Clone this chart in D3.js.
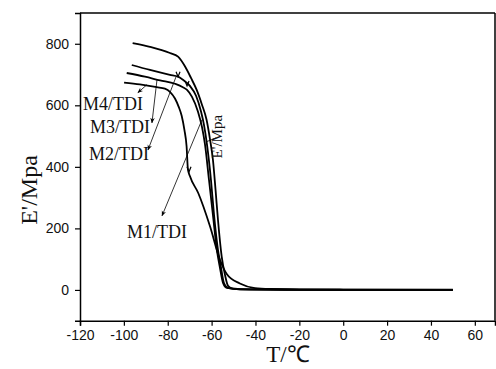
<!DOCTYPE html>
<html><head><meta charset="utf-8">
<script src="https://cdn.jsdelivr.net/npm/d3@7"></script>
<style>body{margin:0;background:#fff}svg{display:block}</style>
</head><body>
<svg id="c" width="496" height="369"></svg>
<script>
// Data (T in °C, E' in MPa)
const xTicks = [-120,-100,-80,-60,-40,-20,0,20,40,60];
const yTicks = [0,200,400,600,800];
const curveTop = [[-96,802],[-88.1,790],[-79,770],[-75.3,758],[-72.1,726],[-69.4,689],[-66.8,650],[-64.4,602],[-62.3,553],[-60.7,488],[-59.4,423],[-58.2,325],[-57.1,228],[-55.4,108],[-53.9,49],[-52.5,13],[-50.7,5],[-42.5,2],[0,0.5],[50,0]];
const curveM3 = [[-96.4,731],[-88.1,715],[-79,699],[-75.3,693],[-73.1,683],[-69.9,663],[-67.1,631],[-64.8,579],[-63.5,537],[-62.1,472],[-60.3,358],[-58.9,244],[-57.1,130],[-55.7,72],[-54.4,23],[-52.5,6.5],[-47.1,2],[-19.7,0.5],[50,0]];
const curveM2 = [[-98.7,705],[-90.4,693],[-83.5,681],[-76.7,670],[-73.1,659],[-71.2,650],[-69,628],[-66.2,579],[-64.4,530],[-63,472],[-61.2,358],[-59.4,244],[-57.6,130],[-56.2,72],[-54.8,23],[-53,6.5],[-47,2],[-19.7,0.5],[50,0]];
const curveM1 = [[-99.9,674],[-92.7,668],[-85,659],[-81.3,654],[-79,644],[-76.7,622],[-75,595],[-73.65,566],[-72.4,520],[-71.4,466],[-70.8,392],[-69.9,370],[-66.1,315],[-60.7,206],[-56.2,98],[-53.1,52],[-47.1,21],[-40.2,6],[-33.4,3],[-19.7,1.5],[50,1]];
const labels = [
  {text:"M4/TDI", x:-118.6, y:585, ax1:[-89.5,667], ax2:[-93.6,641]},
  {text:"M3/TDI", x:-115.4, y:511, ax1:[-84.9,683], ax2:[-87.2,543]},
  {text:"M2/TDI", x:-115.9, y:423, ax1:[-76.2,693], ax2:[-89,455]},
  {text:"M1/TDI", x:-98.6, y:169, ax1:[-64.4,553], ax2:[-82.6,241]}
];
const markers = [[-75.3,693],[-71.2,663],[-70.3,384]];

const svg = d3.select("#c");
const x = d3.scaleLinear().domain([-120, 69.2]).range([80, 495]);
const y = d3.scaleLinear().domain([-100, 900]).range([320.7, 13]);

// frame
svg.append("line").attr("x1",80).attr("x2",495).attr("y1",13).attr("y2",13).attr("stroke","#000").attr("stroke-width",1.5);
svg.append("line").attr("x1",495).attr("x2",495).attr("y1",13).attr("y2",320.7).attr("stroke","#000").attr("stroke-width",1.5);

const xMinor = d3.range(-120, 70, 10);
const yMinor = d3.range(-100, 901, 100);
const fmt = d => String(d);
const gx = svg.append("g").attr("transform","translate(0,320.7)");
gx.call(d3.axisBottom(x).tickValues(xMinor).tickSize(3).tickFormat(""));
gx.call(d3.axisBottom(x).tickValues(xTicks).tickSize(5).tickPadding(4).tickFormat(fmt));
const gy = svg.append("g").attr("transform","translate(80,0)");
gy.call(d3.axisLeft(y).tickValues(yMinor).tickSize(3).tickFormat(""));
gy.call(d3.axisLeft(y).tickValues(yTicks).tickSize(5).tickPadding(6).tickFormat(fmt));
svg.selectAll(".domain").attr("stroke","#000").attr("stroke-width",1.5);
svg.selectAll(".tick line").attr("stroke","#000").attr("stroke-width",1.2);
svg.selectAll(".tick text").attr("font-family","Liberation Sans, Arial, sans-serif").attr("font-size",14).attr("fill","#111");

// curves
const line = d3.line().x(d=>x(d[0])).y(d=>y(d[1])).curve(d3.curveMonotoneX);
[curveTop, curveM3, curveM2, curveM1].forEach(c=>{
  svg.append("path").attr("d", line(c)).attr("fill","none").attr("stroke","#000").attr("stroke-width",1.8);
});

// arrow marker
svg.append("defs").append("marker").attr("id","ah").attr("viewBox","0 0 10 10").attr("refX",9).attr("refY",5)
  .attr("markerWidth",7).attr("markerHeight",7).attr("orient","auto-start-reverse")
  .append("path").attr("d","M0,1 L10,5 L0,9 L3,5 Z").attr("fill","#000");

labels.forEach(l=>{
  svg.append("line").attr("x1",x(l.ax1[0])).attr("y1",y(l.ax1[1])).attr("x2",x(l.ax2[0])).attr("y2",y(l.ax2[1]))
    .attr("stroke","#000").attr("stroke-width",0.8).attr("marker-end","url(#ah)");
  svg.append("text").attr("x",x(l.x)).attr("y",y(l.y)).text(l.text)
    .attr("font-family","Liberation Serif, Times New Roman, serif").attr("font-size",18).attr("fill","#111");
});
markers.forEach(m=>{
  svg.append("path").attr("transform",`translate(${x(m[0])},${y(m[1])})`).attr("d","M-2,-5 L0,0 L2,-5").attr("fill","none").attr("stroke","#000").attr("stroke-width",1.2);
});

// inner E'/Mpa label
svg.append("line").attr("x1",x(-62.6)).attr("y1",y(481)).attr("x2",x(-58)).attr("y2",y(494)).attr("stroke","#000").attr("stroke-width",0.8);
svg.append("text").attr("transform",`translate(${x(-55.2)},${y(498)}) rotate(-90)`).attr("text-anchor","middle")
  .attr("font-family","Liberation Serif, Times New Roman, serif").attr("font-size",15).attr("fill","#111").text("E'/Mpa");

// axis titles
svg.append("text").attr("x",288).attr("y",362).attr("text-anchor","middle")
  .attr("font-family","Liberation Serif, Times New Roman, serif").attr("font-size",23).attr("fill","#111").text("T/℃");
svg.append("text").attr("transform","translate(37,190) rotate(-90)").attr("text-anchor","middle")
  .attr("font-family","Liberation Serif, Times New Roman, serif").attr("font-size",24).attr("fill","#111").text("E'/Mpa");
</script>
</body></html>
